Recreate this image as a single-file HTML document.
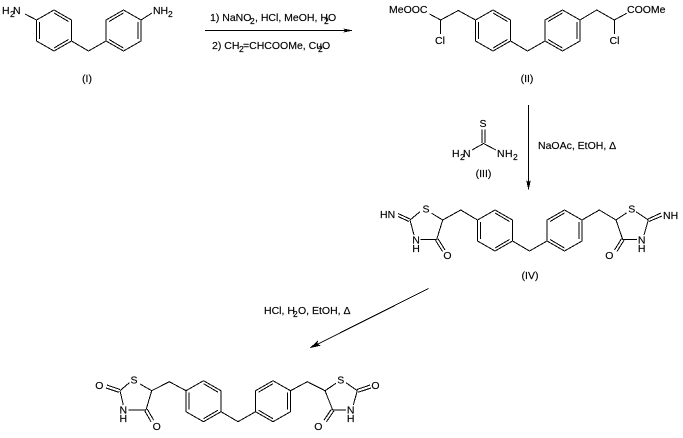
<!DOCTYPE html>
<html><head><meta charset="utf-8">
<style>
html,body{margin:0;padding:0;background:#fff;width:683px;height:438px;overflow:hidden}
svg{display:block;shape-rendering:crispEdges}
text{font-family:"Liberation Sans",sans-serif;font-size:10.5px;fill:#000;stroke:#000;stroke-width:.15}
.s{font-size:8.5px}
line,polyline,polygon.b{stroke:#000;stroke-width:1;fill:none}
</style></head><body>
<svg width="683" height="438" viewBox="0 0 683 438" xmlns="http://www.w3.org/2000/svg">
<defs>
<g id="core" fill="none" stroke="#000" stroke-width="1">
<polygon points="17.5,0 35,10 35,31 17.5,41 0,31 0,10"/>
<polygon points="87,0 104.5,10 104.5,31 87,41 69.5,31 69.5,10"/>
<polyline points="35,31 52,41 69.5,31"/>
<line x1="3" y1="12" x2="3" y2="29"/>
<line x1="17.5" y1="3" x2="32" y2="11.5"/>
<line x1="17.5" y1="38" x2="32" y2="29.5"/>
<line x1="101.5" y1="12" x2="101.5" y2="29"/>
<line x1="87" y1="3" x2="72.5" y2="11.5"/>
<line x1="87" y1="38" x2="72.5" y2="29.5"/>
</g>
</defs>

<!-- I -->
<use href="#core" x="36.5" y="10"/>
<line x1="36.5" y1="20" x2="25" y2="14"/>
<line x1="141" y1="20" x2="152" y2="13"/>
<text x="2" y="14">H</text><text class="s" x="10" y="17">2</text><text x="13" y="14">N</text>
<text x="153" y="14">N</text><text x="160.5" y="14">H</text><text class="s" x="168" y="17">2</text>
<text x="87" y="82" text-anchor="middle">(I)</text>

<!-- reagents 1 -->
<line x1="205" y1="30.5" x2="350" y2="30.5"/>
<polygon points="353,30.5 343,28.5 345,30.5 343,32.5" fill="#000"/>
<text x="210" y="21">1) NaNO</text><text class="s" x="250" y="24">2</text><text x="255" y="21">, HCl, MeOH, H</text><text class="s" x="324" y="24">2</text><text x="328" y="21">O</text>
<text x="212" y="49">2) CH</text><text class="s" x="239" y="52">2</text><text x="243" y="49">=CHCOOMe, Cu</text><text class="s" x="318" y="52">2</text><text x="322" y="49">O</text>

<!-- II -->
<use href="#core" x="475.5" y="10"/>
<polyline points="429.5,14 440.7,20 458.3,10.5 475.5,20"/>
<line x1="440.7" y1="20" x2="440.7" y2="34"/>
<polyline points="580,20 596.7,10 614.3,20 626.7,13.3"/>
<line x1="614.3" y1="20" x2="614.3" y2="34"/>
<text x="389" y="13">MeOOC</text>
<text x="627" y="13">COOMe</text>
<text x="440" y="44" text-anchor="middle">Cl</text>
<text x="614.5" y="44" text-anchor="middle">Cl</text>
<text x="527" y="82" text-anchor="middle">(II)</text>

<!-- arrow 2 -->
<line x1="528.5" y1="105" x2="528.5" y2="186"/>
<polygon points="528.5,190.5 526.2,180 528.5,182 530.8,180" fill="#000"/>
<text x="538" y="149">NaOAc, EtOH, Δ</text>

<!-- III -->
<line x1="482" y1="129.5" x2="482" y2="143"/>
<line x1="485" y1="129.5" x2="485" y2="143"/>
<polyline points="472,150 483.5,143.5 496,150"/>
<text x="483" y="127" text-anchor="middle">S</text>
<text x="452" y="157">H</text><text class="s" x="460" y="160">2</text><text x="463" y="157">N</text>
<text x="497" y="157">N</text><text x="505" y="157">H</text><text class="s" x="513" y="160">2</text>
<text x="483.5" y="177" text-anchor="middle">(III)</text>

<!-- IV -->
<use href="#core" x="477.5" y="210"/>
<polyline points="477.5,220 460.7,210 442.7,220 431.7,213.3"/>
<line x1="420" y1="211.7" x2="410" y2="220"/>
<line x1="410" y1="220" x2="414" y2="235"/>
<line x1="420.7" y1="239.5" x2="436.7" y2="239.5"/>
<line x1="436.7" y1="239.5" x2="442.7" y2="220"/>
<line x1="435.5" y1="240.3" x2="442.5" y2="251.5"/>
<line x1="438" y1="238.7" x2="445" y2="250"/>
<line x1="398" y1="213.5" x2="410" y2="219"/>
<line x1="398" y1="216.5" x2="409" y2="221.5"/>
<text x="380" y="218">HN</text>
<text x="426" y="212.5" text-anchor="middle">S</text>
<text x="416" y="243.5" text-anchor="middle">N</text>
<text x="416" y="252" text-anchor="middle">H</text>
<text x="447.5" y="259" text-anchor="middle">O</text>

<polyline points="582,220 599.3,210 616,220 626.7,212.7"/>
<line x1="636" y1="211.7" x2="648.3" y2="220"/>
<line x1="648.3" y1="220" x2="644" y2="235"/>
<line x1="637" y1="239.5" x2="622.7" y2="239.5"/>
<line x1="622.7" y1="239.5" x2="616" y2="220"/>
<line x1="624" y1="240.3" x2="617" y2="251.5"/>
<line x1="621.5" y1="238.7" x2="614.5" y2="250"/>
<line x1="648" y1="219" x2="661" y2="213"/>
<line x1="649" y1="221.5" x2="662" y2="216"/>
<text x="663" y="219">NH</text>
<text x="631.7" y="212.5" text-anchor="middle">S</text>
<text x="641.7" y="243.5" text-anchor="middle">N</text>
<text x="641.7" y="252" text-anchor="middle">H</text>
<text x="609.3" y="259" text-anchor="middle">O</text>
<text x="530" y="279" text-anchor="middle">(IV)</text>

<!-- arrow 3 -->
<line x1="428.5" y1="288.5" x2="313" y2="346.5"/>
<polygon points="309.3,348.3 318,340.5 317.5,344 321,345.5" fill="#000"/>
<text x="264" y="314">HCl, H</text><text class="s" x="293" y="317">2</text><text x="298" y="314">O, EtOH, Δ</text>

<!-- V -->
<use href="#core" x="186" y="380.7"/>
<polyline points="186,390.7 169.3,381.7 151.7,390.7 140,384"/>
<line x1="129.3" y1="382.7" x2="120" y2="390.7"/>
<line x1="120" y1="390.7" x2="123.3" y2="405"/>
<line x1="128.3" y1="410" x2="146" y2="410"/>
<line x1="146" y1="410" x2="151.7" y2="390.7"/>
<line x1="144.7" y1="410.8" x2="151" y2="421.7"/>
<line x1="147.3" y1="409.2" x2="153.7" y2="420.2"/>
<line x1="107" y1="385" x2="120" y2="389.5"/>
<line x1="106" y1="388" x2="119" y2="392.3"/>
<text x="99.3" y="389" text-anchor="middle">O</text>
<text x="134" y="383.5" text-anchor="middle">S</text>
<text x="123.3" y="413.5" text-anchor="middle">N</text>
<text x="123.3" y="422" text-anchor="middle">H</text>
<text x="156.7" y="430" text-anchor="middle">O</text>

<polyline points="290.5,390.7 307.3,381.7 325,390.7 336,383.3"/>
<line x1="346" y1="382.7" x2="357.3" y2="390.7"/>
<line x1="357.3" y1="390.7" x2="353.3" y2="405"/>
<line x1="346" y1="410" x2="332.7" y2="410"/>
<line x1="332.7" y1="410" x2="325" y2="390.7"/>
<line x1="334" y1="410.8" x2="326.5" y2="421.7"/>
<line x1="331.4" y1="409.2" x2="324" y2="420.2"/>
<line x1="357" y1="389.5" x2="370" y2="385"/>
<line x1="358" y1="392.3" x2="371" y2="388"/>
<text x="375.5" y="389" text-anchor="middle">O</text>
<text x="340.7" y="383.5" text-anchor="middle">S</text>
<text x="350.7" y="413.5" text-anchor="middle">N</text>
<text x="350.7" y="422" text-anchor="middle">H</text>
<text x="318.3" y="430" text-anchor="middle">O</text>
</svg>
</body></html>
